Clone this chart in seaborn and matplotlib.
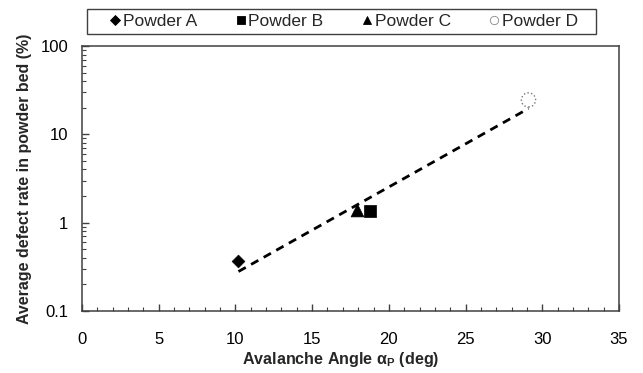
"""Average defect rate vs avalanche angle for four powders."""

import matplotlib

matplotlib.use("Agg")
import matplotlib.pyplot as plt
import seaborn as sns
from matplotlib.lines import Line2D
from matplotlib.patches import Rectangle
from matplotlib.ticker import FixedLocator, FuncFormatter, LogLocator, MultipleLocator

# data
POWDERS = ["Powder A", "Powder B", "Powder C", "Powder D"]
AVALANCHE_ANGLE = [10.2, 18.8, 17.9, 29.1]
DEFECT_RATE = [0.37, 1.36, 1.38, 24.5]
TREND_ANGLE = [10.2, 29.1]
TREND_RATE = [0.28, 19.6]

MARKERS = {"Powder A": "D", "Powder B": "s", "Powder C": "^", "Powder D": "o"}
SIZES = {"Powder A": 42, "Powder B": 80, "Powder C": 85, "Powder D": 105}

sns.set_theme(style="white")
plt.rcParams.update(
    {
        "font.family": ["Liberation Sans", "DejaVu Sans"],
        "mathtext.fontset": "custom",
        "mathtext.rm": "Liberation Sans",
        "mathtext.bf": "Liberation Sans:bold",
        "axes.edgecolor": "#404040",
        "axes.linewidth": 1.1,
        "xtick.direction": "in",
        "ytick.direction": "in",
    }
)

fig = plt.figure(figsize=(6.43, 3.73), dpi=100)
ax = fig.add_axes([0.1275, 0.1662, 0.8352, 0.7105])

sns.lineplot(
    x=TREND_ANGLE,
    y=TREND_RATE,
    ax=ax,
    color="black",
    linewidth=2.0,
    linestyle=(0, (3.0, 2.2)),
    zorder=2,
)

for name, x, y in zip(POWDERS, AVALANCHE_ANGLE, DEFECT_RATE):
    open_marker = name == "Powder D"
    sns.scatterplot(
        x=[x],
        y=[y],
        ax=ax,
        marker=MARKERS[name],
        s=SIZES[name],
        color="white" if open_marker else "black",
        edgecolor="#777777" if open_marker else "black",
        linewidth=1.0 if open_marker else 0.5,
        linestyle=":" if open_marker else "-",
        zorder=3,
    )

ax.set_yscale("log")
ax.set_xlim(0, 35)
ax.set_ylim(0.1, 100)
ax.xaxis.set_major_locator(MultipleLocator(5))
ax.xaxis.set_minor_locator(MultipleLocator(1))
ax.yaxis.set_major_locator(FixedLocator([0.1, 1, 10, 100]))
ax.yaxis.set_minor_locator(LogLocator(base=10, subs=range(2, 10)))
ax.yaxis.set_major_formatter(FuncFormatter(lambda v, _: f"{v:g}"))
ax.yaxis.set_minor_formatter(FuncFormatter(lambda v, _: ""))
ax.tick_params(axis="both", which="major", length=5, width=1, colors="#404040",
               labelsize=12, labelcolor="black")
ax.tick_params(axis="x", which="major", pad=15)
ax.tick_params(axis="y", which="major", pad=10)
ax.tick_params(axis="both", which="minor", length=3, width=0.8, colors="#404040")
ax.tick_params(axis="x", which="both", bottom=True, top=False)
ax.tick_params(axis="y", which="both", left=True, right=False)

ax.set_xlabel(r"Avalanche Angle α$_\mathbf{P}$ (deg)", fontsize=11.6, fontweight="bold")
ax.xaxis.set_label_coords((341 - 82) / 537, -(350 - 311) / 265)
ax.set_ylabel("Average defect rate in powder bed (%)", fontsize=11.5, fontweight="bold", labelpad=6)

handles = []
for name in POWDERS:
    open_marker = name == "Powder D"
    handles.append(
        Line2D(
            [], [],
            linestyle="none",
            marker=MARKERS[name],
            markersize=5 if name == "Powder A" else 6,
            markerfacecolor="white" if open_marker else "black",
            markeredgecolor="#888888" if open_marker else "black",
            markeredgewidth=0.6,
            label=name,
        )
    )
fig.legend(
    handles=handles,
    loc="center",
    bbox_to_anchor=(344 / 643, 1 - 21.5 / 373),
    ncol=4,
    frameon=False,
    fontsize=12.5,
    handlelength=0.6,
    handletextpad=0.15,
    columnspacing=2.2,
)
fig.patches.append(
    Rectangle(
        (87 / 643, 1 - 34 / 373),
        (596 - 87) / 643,
        25 / 373,
        transform=fig.transFigure,
        fill=False,
        edgecolor="#404040",
        linewidth=1.0,
    )
)

fig.savefig("out.png", dpi=100)
